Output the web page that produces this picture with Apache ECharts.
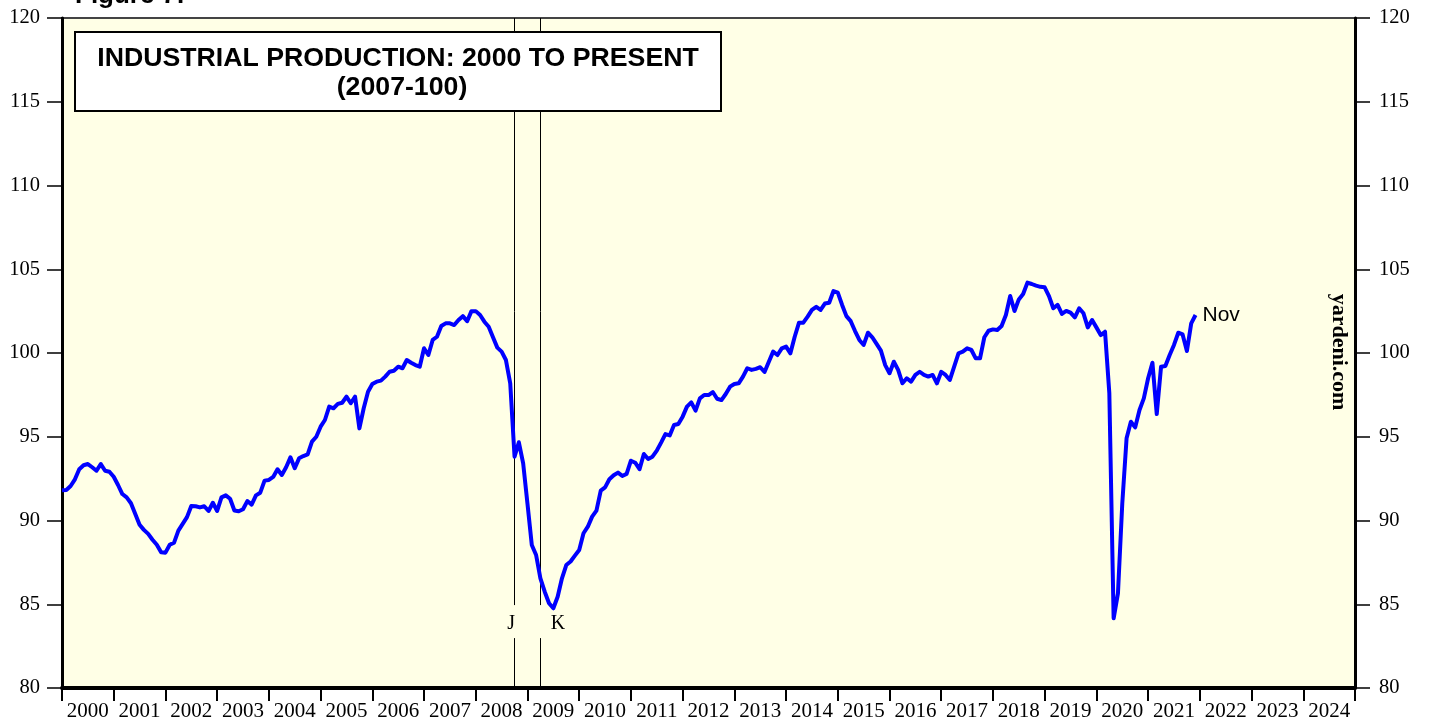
<!DOCTYPE html>
<html>
<head>
<meta charset="utf-8">
<script src="https://cdn.jsdelivr.net/npm/echarts@6/dist/echarts.min.js"></script>
<style>
html,body{margin:0;padding:0;background:#fff;}
#chart{width:1429px;height:723px;}
</style>
</head>
<body>
<div id="chart"></div>
<script>
// Industrial production index (2007=100), monthly
var dec1999 = 91.8;
var ip2000 = [91.82, 92.06, 92.46, 93.06, 93.3, 93.37, 93.18, 92.97, 93.37, 92.97, 92.91, 92.61];
var ip2001 = [92.12, 91.58, 91.38, 91.03, 90.39, 89.75, 89.44, 89.2, 88.85, 88.55, 88.1, 88.08];
var ip2002 = [88.55, 88.68, 89.4, 89.8, 90.2, 90.87, 90.85, 90.78, 90.85, 90.57, 91.06, 90.57];
var ip2003 = [91.38, 91.5, 91.3, 90.6, 90.55, 90.67, 91.16, 90.95, 91.5, 91.66, 92.38, 92.42];
var ip2004 = [92.6, 93.06, 92.72, 93.18, 93.77, 93.12, 93.71, 93.85, 93.95, 94.71, 95.0, 95.6];
var ip2005 = [96.0, 96.8, 96.7, 96.96, 97.03, 97.39, 97.0, 97.39, 95.5, 96.7, 97.69, 98.15];
var ip2006 = [98.29, 98.35, 98.59, 98.88, 98.94, 99.18, 99.09, 99.58, 99.42, 99.28, 99.18, 100.28];
var ip2007 = [99.88, 100.78, 100.97, 101.61, 101.77, 101.77, 101.67, 101.97, 102.2, 101.9, 102.5, 102.5];
var ip2008 = [102.27, 101.87, 101.57, 100.94, 100.32, 100.08, 99.58, 98.19, 93.81, 94.67, 93.41, 91.0];
var ip2009 = [88.54, 87.94, 86.55, 85.75, 85.06, 84.76, 85.45, 86.55, 87.34, 87.55, 87.9, 88.24];
var ip2010 = [89.24, 89.63, 90.23, 90.59, 91.78, 91.98, 92.46, 92.7, 92.86, 92.66, 92.78, 93.57];
var ip2011 = [93.45, 93.06, 93.97, 93.67, 93.81, 94.17, 94.65, 95.16, 95.08, 95.7, 95.76, 96.2];
var ip2012 = [96.8, 97.05, 96.56, 97.29, 97.49, 97.49, 97.67, 97.27, 97.19, 97.55, 97.99, 98.15];
var ip2013 = [98.19, 98.59, 99.09, 98.99, 99.05, 99.15, 98.87, 99.48, 100.08, 99.88, 100.28, 100.38];
var ip2014 = [99.98, 100.97, 101.81, 101.81, 102.17, 102.57, 102.76, 102.57, 102.95, 103.0, 103.7, 103.6];
var ip2015 = [102.87, 102.2, 101.9, 101.31, 100.78, 100.48, 101.21, 100.94, 100.54, 100.14, 99.28, 98.79];
var ip2016 = [99.48, 98.99, 98.19, 98.49, 98.29, 98.69, 98.88, 98.69, 98.59, 98.69, 98.19, 98.88];
var ip2017 = [98.69, 98.39, 99.18, 99.98, 100.08, 100.28, 100.18, 99.68, 99.68, 100.94, 101.33, 101.41];
var ip2018 = [101.37, 101.61, 102.27, 103.4, 102.51, 103.2, 103.52, 104.2, 104.12, 104.02, 103.95, 103.92];
var ip2019 = [103.4, 102.67, 102.87, 102.33, 102.51, 102.41, 102.13, 102.67, 102.37, 101.53, 101.97, 101.53];
var ip2020 = [101.07, 101.27, 97.6, 84.16, 85.65, 91.0, 94.91, 95.9, 95.56, 96.6, 97.29, 98.49];
var ip2021 = [99.42, 96.36, 99.18, 99.22, 99.88, 100.48, 101.21, 101.11, 100.12, 101.77, 102.27];

var yearLabels = ['2000','2001','2002','2003','2004','2005','2006','2007','2008','2009','2010','2011',
                  '2012','2013','2014','2015','2016','2017','2018','2019','2020','2021','2022','2023','2024'];
var yTicks = [80, 85, 90, 95, 100, 105, 110, 115, 120];

var eventLabels = ['J', 'K'];
var eventDates = [2008.74, 2009.24];   // decimal years

var lastLabel = 'Nov';
var titleLine1 = 'INDUSTRIAL PRODUCTION: 2000 TO PRESENT';
var titleLine2 = '(2007-100)';

// build series points: each monthly value plotted at the end of its month
var byYear = [ip2000, ip2001, ip2002, ip2003, ip2004, ip2005, ip2006, ip2007, ip2008, ip2009, ip2010,
              ip2011, ip2012, ip2013, ip2014, ip2015, ip2016, ip2017, ip2018, ip2019, ip2020, ip2021];
var points = [[2000, dec1999]];
byYear.forEach(function (arr, k) {
  arr.forEach(function (v, m) { points.push([2000 + k + (m + 1) / 12, v]); });
});

var markLineData = [];
var markPointData = [];
eventDates.forEach(function (d, i) {
  markLineData.push([{coord: [d, 120]}, {coord: [d, 84.95]}]);
  markLineData.push([{coord: [d, 82.98]}, {coord: [d, 80]}]);
  markPointData.push({
    coord: [d, 83.85], name: eventLabels[i],
    label: {offset: i === 0 ? [-3, 0] : [18, 0]}
  });
});

var serif = '"Liberation Serif", "Times New Roman", serif';
var sans = '"Liberation Sans", Arial, sans-serif';

var chart = echarts.init(document.getElementById('chart'), null, {renderer: 'canvas'});
chart.setOption({
  animation: false,
  backgroundColor: '#ffffff',
  grid: {
    left: 62, right: 74, top: 18, bottom: 35,
    show: true, backgroundColor: '#ffffe6', borderColor: '#444444', borderWidth: 2
  },
  xAxis: [
    {
      type: 'value', min: 2000, max: 2025, interval: 1, position: 'bottom',
      axisLine: {show: true, lineStyle: {color: '#000', width: 4}},
      axisTick: {show: true, inside: false, length: 13, lineStyle: {color: '#000', width: 2}},
      axisLabel: {show: false},
      splitLine: {show: false}
    },
    {
      type: 'category', data: yearLabels, position: 'bottom', boundaryGap: true,
      axisLine: {show: false}, axisTick: {show: false}, splitLine: {show: false},
      axisLabel: {show: true, interval: 0, margin: 13, color: '#000', fontFamily: serif, fontSize: 21}
    }
  ],
  yAxis: [
    {
      type: 'value', position: 'left', min: 80, max: 120, interval: 5,
      axisLine: {show: true, lineStyle: {color: '#000', width: 3}},
      axisTick: {show: true, inside: false, length: 15, lineStyle: {color: '#000', width: 1.5}},
      axisLabel: {margin: 22, color: '#000', fontFamily: serif, fontSize: 20.5,
        formatter: function (v) { return yTicks.indexOf(v) >= 0 ? String(v) : ''; }},
      splitLine: {show: false}
    },
    {
      type: 'value', position: 'right', min: 80, max: 120, interval: 5,
      axisLine: {show: true, lineStyle: {color: '#000', width: 3}},
      axisTick: {show: true, inside: false, length: 15, lineStyle: {color: '#000', width: 1.5}},
      axisLabel: {margin: 24, color: '#000', fontFamily: serif, fontSize: 20.5,
        formatter: function (v) { return yTicks.indexOf(v) >= 0 ? String(v) : ''; }},
      splitLine: {show: false}
    }
  ],
  series: [
    {
      type: 'line', xAxisIndex: 0, yAxisIndex: 0, data: points,
      showSymbol: false, symbol: 'none', z: 5,
      lineStyle: {color: '#0000ff', width: 4, join: 'round'},
      endLabel: {show: true, formatter: lastLabel, color: '#000', fontFamily: sans, fontSize: 21, distance: 7},
      markLine: {
        silent: true, symbol: ['none', 'none'], z: 3,
        lineStyle: {color: '#000', width: 1, type: 'solid'},
        label: {show: false},
        data: markLineData
      },
      markPoint: {
        silent: true, symbol: 'circle', symbolSize: 1,
        itemStyle: {color: 'rgba(0,0,0,0)'},
        label: {show: true, position: 'inside', formatter: '{b}', color: '#000', fontFamily: serif, fontSize: 20},
        data: markPointData
      }
    }
  ],
  graphic: [
    {
      type: 'text', z: 100, left: 75, top: -17,
      style: {text: 'Figure 7:', font: 'bold 26px ' + sans, fill: '#000'}
    },
    {
      type: 'rect', z: 100, shape: {x: 75, y: 32, width: 646, height: 79},
      style: {fill: '#ffffff', stroke: '#000', lineWidth: 2}
    },
    {
      type: 'text', z: 101, x: 398, y: 59,
      style: {text: titleLine1, font: 'bold 26.7px ' + sans, fill: '#000', textAlign: 'center', textVerticalAlign: 'middle'}
    },
    {
      type: 'text', z: 101, x: 402, y: 88,
      style: {text: titleLine2, font: 'bold 26.7px ' + sans, fill: '#000', textAlign: 'center', textVerticalAlign: 'middle'}
    },
    {
      type: 'text', z: 100, x: 1339, y: 352, rotation: -Math.PI / 2,
      style: {text: 'yardeni.com', font: 'bold 22px ' + serif, fill: '#000', textAlign: 'center', textVerticalAlign: 'middle'}
    }
  ]
});
</script>
</body>
</html>
